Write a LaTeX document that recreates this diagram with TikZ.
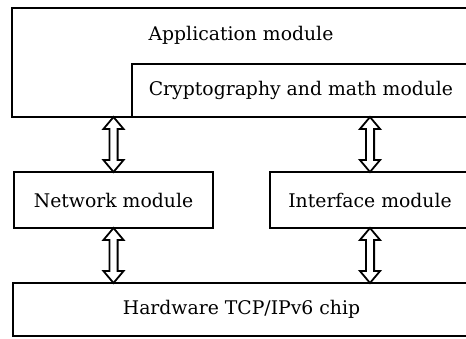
\documentclass[tikz,border=0pt]{standalone}
\usepackage{fontspec}
\setmainfont{DejaVu Serif}
\usepackage{tikz}
\usetikzlibrary{positioning,shapes.arrows}

\begin{document}
\begin{tikzpicture}[
  x=0.5pt, y=-0.5pt,
  every node/.style={font=\fontsize{9.4}{11}\selectfont},
  box/.style={draw, line width=1pt, inner sep=0pt, outer sep=0pt, align=center},
  txt/.style={inner sep=0pt},
  dblarr/.style={double arrow, draw, line width=0.9pt, fill=white,
                 rotate=90, inner sep=1.6pt, outer sep=0pt, minimum width=0pt,
                 minimum height=27.5pt, double arrow head extend=3pt,
                 double arrow tip angle=80},
]
  \useasboundingbox (0,0) rectangle (466,338);
  \node[box, anchor=north west, minimum width=229pt, minimum height=54.5pt] (app) at (12,8) {};
  \node[txt] (apptxt) at (241,35) {Application module};
  \node[box, anchor=south east, minimum width=169pt, minimum height=26.5pt] (cry) at (app.south east) {Cryptography and math module};
  \node[box, below=27.5pt of app.south west, anchor=north west, xshift=1pt,
        minimum width=99.5pt, minimum height=28pt] (net) {Network module};
  \node[box, right=28.5pt of net.north east, anchor=north west,
        minimum width=100pt, minimum height=28pt] (ifc) {Interface module};
  \node[box, below=27.5pt of net.south west, anchor=north west, xshift=-0.5pt,
        minimum width=228.5pt, minimum height=26.5pt] (hw) {Hardware TCP/IPv6 chip};
  \path (app.south -| net.north) -- (net.north) node[dblarr, midway] (a1) {};
  \path (cry.south -| ifc.north) -- (ifc.north) node[dblarr, midway] (a2) {};
  \path (net.south) -- (hw.north -| net.south) node[dblarr, midway] (a3) {};
  \path (ifc.south) -- (hw.north -| ifc.south) node[dblarr, midway] (a4) {};
\end{tikzpicture}
\end{document}
